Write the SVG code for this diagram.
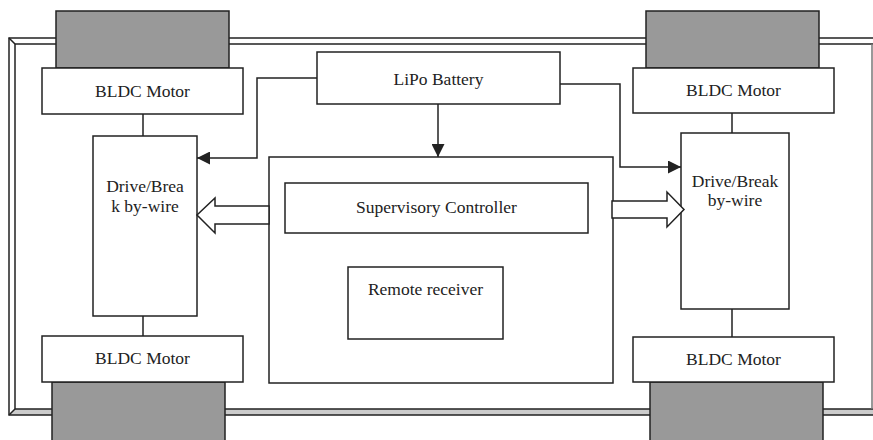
<svg xmlns="http://www.w3.org/2000/svg" width="873" height="440" viewBox="0 0 873 440">
<defs>
<style>
.box{fill:#fff;stroke:#222;stroke-width:1.5}
.wheel{fill:#999;stroke:#222;stroke-width:1.5}
.ln{fill:none;stroke:#222;stroke-width:1.5}
.t{font-family:"Liberation Serif","Times New Roman",serif;font-size:17.5px;fill:#222;text-anchor:middle}
</style>
<marker id="ah" viewBox="0 0 10 10" refX="10" refY="5" markerWidth="13" markerHeight="13" markerUnits="userSpaceOnUse" orient="auto">
<path d="M0,0 L10,5 L0,10 z" fill="#222"/>
</marker>
</defs>
<rect width="873" height="440" fill="#fff"/>
<g id="frame">
<path d="M9,415 L880,415 L880,409 L15,409 Z" fill="#ccc" stroke="none"/>
<path d="M880,38 L9,38 L9,415 L880,415" class="ln"/>
<path d="M873,44 L15,44 L15,409 L873,409" class="ln"/>
<path d="M872,44 L872,409" fill="none" stroke="#777" stroke-width="1.5"/>
<path d="M9,38 L15,44 M9,415 L15,409" class="ln"/>
</g>
<g id="wheel-tl"><rect class="wheel" x="56" y="11" width="173" height="57"/></g>
<g id="wheel-tr"><rect class="wheel" x="646" y="11" width="173" height="57"/></g>
<g id="wheel-bl"><rect class="wheel" x="52" y="382" width="173" height="62"/></g>
<g id="wheel-br"><rect class="wheel" x="650" y="382" width="173" height="62"/></g>
<g id="motor-tl"><rect class="box" x="42" y="68" width="201" height="46"/><text class="t" x="142.5" y="97">BLDC Motor</text></g>
<g id="motor-tr"><rect class="box" x="633" y="68" width="201" height="45"/><text class="t" x="733.5" y="96">BLDC Motor</text></g>
<g id="motor-bl"><rect class="box" x="42" y="336" width="201" height="46"/><text class="t" x="142.5" y="364">BLDC Motor</text></g>
<g id="motor-br"><rect class="box" x="633" y="337" width="201" height="45"/><text class="t" x="733.5" y="365">BLDC Motor</text></g>
<g id="drive-l"><rect class="box" x="93" y="136" width="104" height="180"/><text class="t" x="145" y="192">Drive/Brea</text><text class="t" x="145" y="212">k by-wire</text></g>
<g id="drive-r"><rect class="box" x="681" y="133" width="108" height="176"/><text class="t" x="735" y="187">Drive/Break</text><text class="t" x="735" y="206">by-wire</text></g>
<g id="battery"><rect class="box" x="317" y="52" width="243" height="52"/><text class="t" x="438.5" y="85">LiPo Battery</text></g>
<g id="central"><rect class="box" x="269" y="157" width="344" height="226"/></g>
<g id="supervisory"><rect class="box" x="285" y="183" width="303" height="50"/><text class="t" x="436.5" y="213">Supervisory Controller</text></g>
<g id="remote"><rect class="box" x="348" y="267" width="155" height="72"/><text class="t" x="425.5" y="295">Remote receiver</text></g>
<g id="connectors">
<path class="ln" d="M143,114 L143,136 M143,316 L143,336 M732,113 L732,133 M732,309 L732,337"/>
<path class="ln" d="M317,78 L257,78 L257,158 L197,158" marker-end="url(#ah)"/>
<path class="ln" d="M438,104 L438,157" marker-end="url(#ah)"/>
<path class="ln" d="M560,84 L620,84 L620,167 L681,167" marker-end="url(#ah)"/>
<path d="M269,206 L215,206 L215,198 L197,215 L215,233 L215,224 L269,224 Z" fill="#fff" stroke="#222" stroke-width="1.5"/>
<path d="M612,201 L667,201 L667,192 L684,209.5 L667,227 L667,218 L612,218 Z" fill="#fff" stroke="#222" stroke-width="1.5"/>
</g>
</svg>
